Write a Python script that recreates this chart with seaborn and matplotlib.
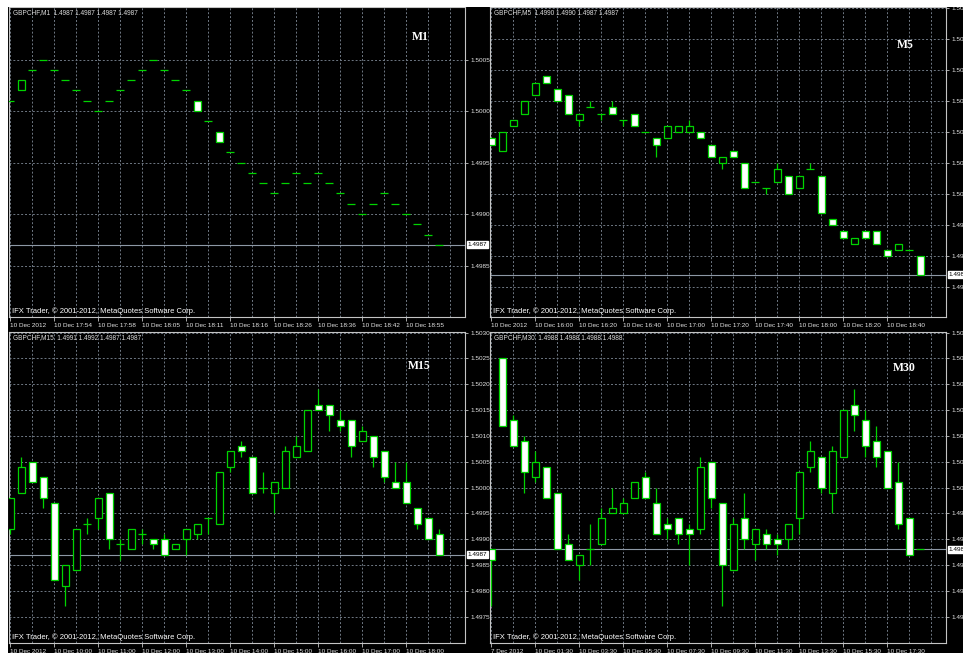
import numpy as np
import matplotlib
matplotlib.use("Agg")
import matplotlib.pyplot as plt
import matplotlib.transforms as mtransforms
from matplotlib.patches import Rectangle
import seaborn as sns

# ---- data: GBPCHF candles (open, high, low, close) per timeframe ----
m1_open = [1.5001, 1.5002, 1.5004, 1.5005, 1.5004, 1.5003, 1.5002, 1.5001, 1.5000, 1.5001,
           1.5002, 1.5003, 1.5004, 1.5005, 1.5004, 1.5003, 1.5002, 1.5001, 1.4999, 1.4998,
           1.4996, 1.4995, 1.4994, 1.4993, 1.4992, 1.4993, 1.4994, 1.4993, 1.4994, 1.4993,
           1.4992, 1.4991, 1.4990, 1.4991, 1.4992, 1.4991, 1.4990, 1.4989, 1.4988, 1.4987]
m1_high = [1.5001, 1.5003, 1.5004, 1.5005, 1.5004, 1.5003, 1.5002, 1.5001, 1.5000, 1.5001,
           1.5002, 1.5003, 1.5004, 1.5005, 1.5004, 1.5003, 1.5002, 1.5001, 1.4999, 1.4998,
           1.4996, 1.4995, 1.4994, 1.4993, 1.4992, 1.4993, 1.4994, 1.4993, 1.4994, 1.4993,
           1.4992, 1.4991, 1.4990, 1.4991, 1.4992, 1.4991, 1.4990, 1.4989, 1.4988, 1.4987]
m1_low = [1.5001, 1.5002, 1.5004, 1.5005, 1.5004, 1.5003, 1.5002, 1.5001, 1.5000, 1.5001,
          1.5002, 1.5003, 1.5004, 1.5005, 1.5004, 1.5003, 1.5002, 1.5000, 1.4999, 1.4997,
          1.4996, 1.4995, 1.4994, 1.4993, 1.4992, 1.4993, 1.4994, 1.4993, 1.4994, 1.4993,
          1.4992, 1.4991, 1.4990, 1.4991, 1.4992, 1.4991, 1.4990, 1.4989, 1.4988, 1.4987]
m1_close = [1.5001, 1.5003, 1.5004, 1.5005, 1.5004, 1.5003, 1.5002, 1.5001, 1.5000, 1.5001,
            1.5002, 1.5003, 1.5004, 1.5005, 1.5004, 1.5003, 1.5002, 1.5000, 1.4999, 1.4997,
            1.4996, 1.4995, 1.4994, 1.4993, 1.4992, 1.4993, 1.4994, 1.4993, 1.4994, 1.4993,
            1.4992, 1.4991, 1.4990, 1.4991, 1.4992, 1.4991, 1.4990, 1.4989, 1.4988, 1.4987]
m1_dates = ["10 Dec 2012", "10 Dec 17:54", "10 Dec 17:58", "10 Dec 18:05", "10 Dec 18:11",
            "10 Dec 18:16", "10 Dec 18:26", "10 Dec 18:36", "10 Dec 18:42", "10 Dec 18:55"]
m1_levels = [1.4985, 1.4990, 1.4995, 1.5000, 1.5005]

m5_open = [1.5009, 1.5007, 1.5011, 1.5013, 1.5016, 1.5019, 1.5017, 1.5016, 1.5012, 1.5014,
           1.5013, 1.5014, 1.5012, 1.5013, 1.5010, 1.5009, 1.5009, 1.5010, 1.5010, 1.5010,
           1.5008, 1.5005, 1.5007, 1.5005, 1.5002, 1.5001, 1.5002, 1.5003, 1.5001, 1.5004,
           1.5003, 1.4996, 1.4994, 1.4992, 1.4994, 1.4994, 1.4991, 1.4991, 1.4991, 1.4990]
m5_high = [1.5009, 1.5010, 1.5012, 1.5015, 1.5018, 1.5019, 1.5017, 1.5016, 1.5013, 1.5015,
           1.5013, 1.5015, 1.5012, 1.5013, 1.5010, 1.5009, 1.5011, 1.5011, 1.5012, 1.5010,
           1.5008, 1.5006, 1.5007, 1.5005, 1.5002, 1.5001, 1.5005, 1.5003, 1.5003, 1.5005,
           1.5003, 1.4996, 1.4994, 1.4993, 1.4994, 1.4994, 1.4991, 1.4992, 1.4991, 1.4990]
m5_low = [1.5008, 1.5007, 1.5011, 1.5013, 1.5016, 1.5018, 1.5015, 1.5013, 1.5011, 1.5014,
          1.5012, 1.5013, 1.5011, 1.5011, 1.5010, 1.5006, 1.5009, 1.5010, 1.5010, 1.5009,
          1.5006, 1.5004, 1.5006, 1.5001, 1.5002, 1.5000, 1.5002, 1.5000, 1.5001, 1.5004,
          1.4997, 1.4995, 1.4993, 1.4992, 1.4993, 1.4992, 1.4990, 1.4991, 1.4991, 1.4987]
m5_close = [1.5008, 1.5010, 1.5012, 1.5015, 1.5018, 1.5018, 1.5015, 1.5013, 1.5013, 1.5014,
            1.5013, 1.5013, 1.5012, 1.5011, 1.5010, 1.5008, 1.5011, 1.5011, 1.5011, 1.5009,
            1.5006, 1.5006, 1.5006, 1.5001, 1.5002, 1.5001, 1.5004, 1.5000, 1.5003, 1.5004,
            1.4997, 1.4995, 1.4993, 1.4993, 1.4993, 1.4992, 1.4990, 1.4992, 1.4991, 1.4987]
m5_dates = ["10 Dec 2012", "10 Dec 16:00", "10 Dec 16:20", "10 Dec 16:40", "10 Dec 17:00",
            "10 Dec 17:20", "10 Dec 17:40", "10 Dec 18:00", "10 Dec 18:20", "10 Dec 18:40"]
m5_levels = [1.4985, 1.4990, 1.4995, 1.5000, 1.5005, 1.5010, 1.5015, 1.5020, 1.5025, 1.5030]

m15_open = [1.4992, 1.4999, 1.5005, 1.5002, 1.4997, 1.4981, 1.4984, 1.4993, 1.4994, 1.4999,
            1.4989, 1.4988, 1.4991, 1.4990, 1.4990, 1.4988, 1.4990, 1.4991, 1.4994, 1.4993,
            1.5004, 1.5008, 1.5006, 1.5000, 1.4999, 1.5000, 1.5006, 1.5007, 1.5016, 1.5016,
            1.5013, 1.5013, 1.5009, 1.5010, 1.5007, 1.5001, 1.5001, 1.4996, 1.4994, 1.4991]
m15_high = [1.4998, 1.5006, 1.5005, 1.5002, 1.4997, 1.4985, 1.4992, 1.4994, 1.4998, 1.4999,
            1.4990, 1.4992, 1.4992, 1.4990, 1.4991, 1.4989, 1.4992, 1.4993, 1.4994, 1.5003,
            1.5007, 1.5009, 1.5006, 1.5003, 1.5001, 1.5008, 1.5010, 1.5015, 1.5019, 1.5016,
            1.5015, 1.5013, 1.5012, 1.5010, 1.5007, 1.5005, 1.5005, 1.4996, 1.4994, 1.4992]
m15_low = [1.4991, 1.4999, 1.5001, 1.4996, 1.4982, 1.4977, 1.4984, 1.4991, 1.4992, 1.4988,
           1.4986, 1.4988, 1.4989, 1.4988, 1.4987, 1.4988, 1.4987, 1.4990, 1.4991, 1.4993,
           1.5003, 1.5006, 1.4999, 1.4999, 1.4995, 1.5000, 1.5006, 1.5007, 1.5015, 1.5011,
           1.5011, 1.5006, 1.5009, 1.5004, 1.5001, 1.5000, 1.4997, 1.4992, 1.4990, 1.4987]
m15_close = [1.4998, 1.5004, 1.5001, 1.4998, 1.4982, 1.4985, 1.4992, 1.4993, 1.4998, 1.4990,
             1.4989, 1.4992, 1.4991, 1.4989, 1.4987, 1.4989, 1.4992, 1.4993, 1.4994, 1.5003,
             1.5007, 1.5007, 1.4999, 1.5000, 1.5001, 1.5007, 1.5008, 1.5015, 1.5015, 1.5014,
             1.5012, 1.5008, 1.5011, 1.5006, 1.5002, 1.5000, 1.4997, 1.4993, 1.4990, 1.4987]
m15_dates = ["10 Dec 2012", "10 Dec 10:00", "10 Dec 11:00", "10 Dec 12:00", "10 Dec 13:00",
             "10 Dec 14:00", "10 Dec 15:00", "10 Dec 16:00", "10 Dec 17:00", "10 Dec 18:00"]
m15_levels = [1.4975, 1.4980, 1.4985, 1.4990, 1.4995, 1.5000, 1.5005, 1.5010, 1.5015,
              1.5020, 1.5025, 1.5030]

m30_open = [1.4988, 1.5025, 1.5013, 1.5009, 1.5002, 1.5004, 1.4999, 1.4989, 1.4985, 1.4988,
            1.4989, 1.4995, 1.4995, 1.4998, 1.5002, 1.4997, 1.4993, 1.4994, 1.4992, 1.4992,
            1.5005, 1.4997, 1.4984, 1.4994, 1.4989, 1.4991, 1.4990, 1.4990, 1.4994, 1.5004,
            1.5006, 1.4999, 1.5006, 1.5016, 1.5013, 1.5009, 1.5007, 1.5001, 1.4994, 1.4988]
m30_high = [1.4988, 1.5025, 1.5014, 1.5010, 1.5007, 1.5004, 1.4999, 1.4991, 1.4987, 1.4993,
            1.4996, 1.5000, 1.4998, 1.5001, 1.5003, 1.5000, 1.4994, 1.4994, 1.4993, 1.5006,
            1.5005, 1.4997, 1.4994, 1.4999, 1.4992, 1.4992, 1.4991, 1.4993, 1.5003, 1.5009,
            1.5006, 1.5008, 1.5015, 1.5019, 1.5015, 1.5012, 1.5007, 1.5005, 1.4994, 1.4988]
m30_low = [1.4977, 1.5012, 1.5008, 1.4999, 1.5001, 1.4998, 1.4988, 1.4986, 1.4982, 1.4985,
           1.4989, 1.4995, 1.4995, 1.4998, 1.4998, 1.4991, 1.4990, 1.4989, 1.4985, 1.4991,
           1.4996, 1.4977, 1.4984, 1.4988, 1.4986, 1.4988, 1.4987, 1.4988, 1.4991, 1.5003,
           1.4999, 1.4995, 1.5006, 1.5011, 1.5006, 1.5004, 1.5000, 1.4992, 1.4987, 1.4988]
m30_close = [1.4986, 1.5012, 1.5008, 1.5003, 1.5005, 1.4998, 1.4988, 1.4986, 1.4987, 1.4988,
             1.4994, 1.4996, 1.4997, 1.5001, 1.4998, 1.4991, 1.4992, 1.4991, 1.4991, 1.5004,
             1.4998, 1.4985, 1.4993, 1.4990, 1.4992, 1.4989, 1.4989, 1.4993, 1.5003, 1.5007,
             1.5000, 1.5007, 1.5015, 1.5014, 1.5008, 1.5006, 1.5000, 1.4993, 1.4987, 1.4988]
m30_dates = ["7 Dec 2012", "10 Dec 01:30", "10 Dec 03:30", "10 Dec 05:30", "10 Dec 07:30",
             "10 Dec 09:30", "10 Dec 11:30", "10 Dec 13:30", "10 Dec 15:30", "10 Dec 17:30"]
m30_levels = m15_levels

GREEN = "#00d400"
GRID = "#6f7884"
FRAME = "#c4c4c4"
W, H = 963, 653

sns.set_style("dark", {"axes.facecolor": "black", "figure.facecolor": "black"})
plt.rcParams["font.family"] = ["Liberation Sans", "DejaVu Sans"]

fig = plt.figure(figsize=(W / 100, H / 100), dpi=100)
fig.patch.set_facecolor("black")
# white window margins (top and left)
fig.add_artist(Rectangle((0, 1 - 6.5 / H), 1, 6.5 / H, transform=fig.transFigure,
                         facecolor="white", edgecolor="none"))
fig.add_artist(Rectangle((0, 0), 8 / W, 1, transform=fig.transFigure,
                         facecolor="white", edgecolor="none"))


def candles(ax, o, h, l, c):
    o, h, l, c = map(np.asarray, (o, h, l, c))
    x = np.arange(len(o))
    ax.vlines(x, l, h, color=GREEN, lw=0.9, zorder=3)
    bull = c > o + 1e-9
    bear = c < o - 1e-9
    doji = ~(bull | bear)
    ax.bar(x[bull], (c - o)[bull], bottom=o[bull], width=0.6, facecolor="black",
           edgecolor=GREEN, linewidth=0.9, zorder=4)
    ax.bar(x[bear], (o - c)[bear], bottom=c[bear], width=0.6, facecolor="white",
           edgecolor=GREEN, linewidth=0.9, zorder=4)
    ax.hlines(o[doji], x[doji] - 0.36, x[doji] + 0.36, color=GREEN, lw=0.9, zorder=4)


panels = [
    ("M1", m1_open, m1_high, m1_low, m1_close, m1_dates, m1_levels,
     (9, 7, 465, 317), (1.49800, 1.50101), (0.921, 0.903)),
    ("M5", m5_open, m5_high, m5_low, m5_close, m5_dates, m5_levels,
     (490, 7, 946, 317), (1.49802, 1.50302), (0.930, 0.876)),
    ("M15", m15_open, m15_high, m15_low, m15_close, m15_dates, m15_levels,
     (9, 332, 465, 643), (1.49699, 1.50301), (0.925, 0.891)),
    ("M30", m30_open, m30_high, m30_low, m30_close, m30_dates, m30_levels,
     (490, 332, 946, 643), (1.49699, 1.50301), (0.934, 0.884)),
]

for name, o, h, l, c, dates, levels, box, ylim, mpos in panels:
    x0, y0, x1, y1 = box
    ax = fig.add_axes([x0 / W, 1 - y1 / H, (x1 - x0) / W, (y1 - y0) / H])
    ax.set_facecolor("black")
    ax.set_axisbelow(True)

    candles(ax, o, h, l, c)
    ax.axhline(c[-1], color="#8d98a5", lw=0.8, zorder=2)

    ax.set_xlim(-0.12, 41.34)
    ax.set_ylim(*ylim)

    ax.set_xticks(range(0, 40, 4))
    ax.set_xticklabels(dates, ha="left")
    ax.set_xticks(range(0, 42, 2), minor=True)
    ax.yaxis.tick_right()
    ax.set_yticks(levels)
    ax.set_yticklabels([f"{v:.4f}" for v in levels])

    ax.grid(True, which="both", axis="x", color=GRID, lw=0.7, linestyle=(0, (2, 2)))
    ax.grid(True, which="major", axis="y", color=GRID, lw=0.7, linestyle=(0, (2, 2)))
    ax.tick_params(axis="x", which="major", bottom=True, length=3, width=0.6, color=FRAME,
                   pad=1.2, labelsize=4.6, labelcolor="#e4e4e4")
    ax.tick_params(axis="x", which="minor", bottom=False, length=0)
    ax.tick_params(axis="y", which="major", right=True, left=False, length=2.5, width=0.6,
                   color=FRAME, pad=1.2, labelsize=4.6, labelcolor="#e4e4e4")
    for s in ax.spines.values():
        s.set_color(FRAME)
        s.set_linewidth(0.8)

    # current price tag on the price scale
    tr = mtransforms.blended_transform_factory(ax.transAxes, ax.transData)
    ax.text(1.006, c[-1], f"{c[-1]:.4f}", transform=tr, ha="left", va="center",
            fontsize=4.6, color="black", zorder=6, clip_on=False,
            bbox=dict(facecolor="white", edgecolor="white", pad=0.8))

    header = f"GBPCHF,{name}  {o[-1]:.4f} {h[-1]:.4f} {l[-1]:.4f} {c[-1]:.4f}"
    ax.text(4 / 456, 1 - 6 / 310, header, transform=ax.transAxes, ha="left", va="center",
            fontsize=4.7, color="#dcdcdc", zorder=6)
    ax.text(3 / 456, 5.5 / 310, "IFX Trader, \u00a9 2001-2012, MetaQuotes Software Corp.",
            transform=ax.transAxes, ha="left", va="center", fontsize=5.5, color="white",
            zorder=6)
    ax.text(mpos[0], mpos[1], name, transform=ax.transAxes, ha="right", va="center",
            fontsize=8.5, fontweight="bold", family=["Liberation Serif", "DejaVu Serif"],
            color="white", zorder=6)

fig.savefig("out.png", dpi=100, facecolor=fig.get_facecolor())
